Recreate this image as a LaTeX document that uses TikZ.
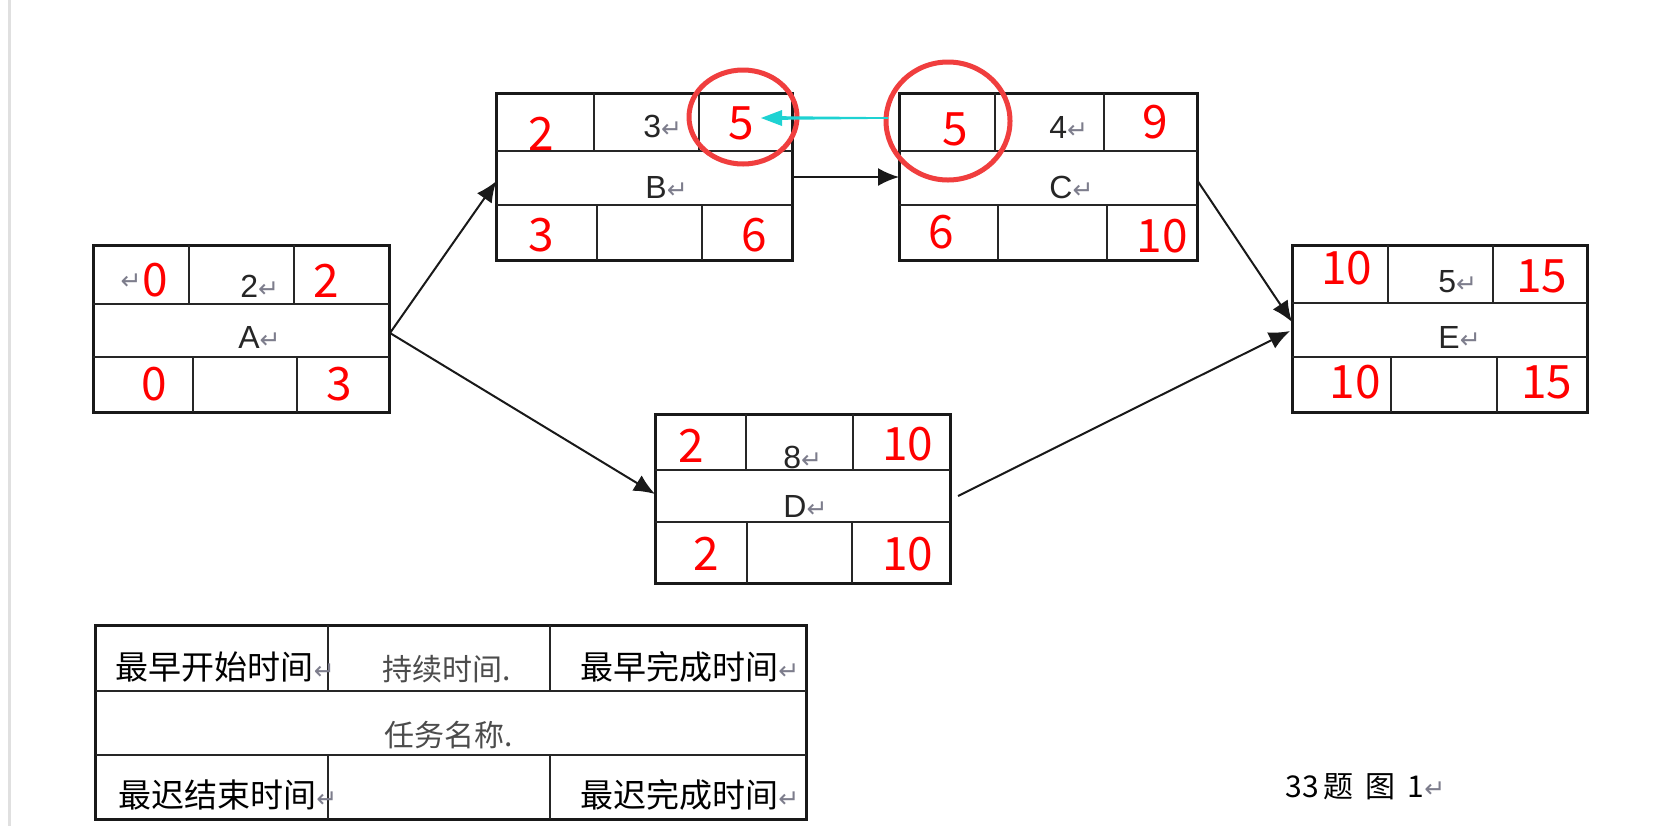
\documentclass[tikz,border=0pt]{standalone}
\usepackage{fontspec}
\setmainfont{Liberation Sans}
\newfontfamily\cjkf{Noto Sans CJK SC}
\newfontfamily\symf{DejaVu Sans}
\usetikzlibrary{arrows.meta,shapes.geometric}
\definecolor{numred}{RGB}{255,0,0}
\definecolor{ringred}{RGB}{240,62,62}
\definecolor{cyanarr}{RGB}{30,210,210}
\definecolor{retgray}{RGB}{125,125,140}
\newcommand\ret{{\symf\color{retgray}\fontsize{12.5}{12.5}\selectfont ↵}}
\tikzset{
  box/.style={draw=black!90, line width=1.5pt, inner sep=0pt, rectangle},
  grid/.style={draw=black!85, line width=1.25pt},
  num/.style={text=numred, font=\cjkf\fontsize{23}{23}\selectfont, inner sep=0pt},
  lab/.style={text=black!85, font=\fontsize{16}{16}\selectfont, inner sep=0pt, anchor=west},
  leg/.style={text=black, font=\cjkf\fontsize{16.5}{16.5}\selectfont, inner sep=0pt, anchor=west},
  legsm/.style={text=black!70, font=\cjkf\fontsize{15}{15}\selectfont, inner sep=0pt, anchor=west},
  arr/.style={-{Latex[length=10.5pt,width=9pt]}, line width=1pt, draw=black!90},
  ring/.style={draw=ringred, line width=2.5pt, ellipse, inner sep=0pt}
}
\begin{document}
\begin{tikzpicture}[x=0.5pt,y=-0.5pt]
\useasboundingbox[fill=white] (0,0) rectangle (1664,826);
\fill[black!12] (8,0) rectangle (11,826);

% ---- boxes
\node[box, minimum width=148pt, minimum height=83.5pt] (A) at (241,328.5) {};
\node[box, minimum width=147.75pt, minimum height=83.5pt] (B) at (644.25,176.5) {};
\node[box, minimum width=149pt, minimum height=83.5pt] (C) at (1048,176.5) {};
\node[box, minimum width=147.5pt, minimum height=84.5pt] (D) at (802.5,498.5) {};
\node[box, minimum width=147.5pt, minimum height=83.5pt] (E) at (1439.5,328.5) {};
\node[box, minimum width=355.25pt, minimum height=97pt] (L) at (450.75,722) {};

% ---- internal grid lines
\draw[grid] (93,304) -- (389,304) (93,357) -- (389,357)
  (189,245) -- (189,304) (294,245) -- (294,304) (193,357) -- (193,412) (297,357) -- (297,412);
\draw[grid] (496.5,151) -- (792,151) (496.5,205) -- (792,205)
  (594,93) -- (594,151) (699,93) -- (699,151) (597,205) -- (597,260) (702,205) -- (702,260);
\draw[grid] (899,151) -- (1197,151) (899,205) -- (1197,205)
  (995,93) -- (995,151) (1104,93) -- (1104,151) (998,205) -- (998,260) (1107,205) -- (1107,260);
\draw[grid] (655,470) -- (950,470) (655,522) -- (950,522)
  (746,414) -- (746,470) (853,414) -- (853,470) (747,522) -- (747,583) (852,522) -- (852,583);
\draw[grid] (1292,303) -- (1587,303) (1292,357) -- (1587,357)
  (1388,245) -- (1388,303) (1493,245) -- (1493,303) (1391,357) -- (1391,412) (1497,357) -- (1497,412);
\draw[grid] (95.5,691) -- (806,691) (95.5,755) -- (806,755)
  (328,625) -- (328,691) (550,625) -- (550,691) (328,755) -- (328,819) (550,755) -- (550,819);

% ---- black labels
\node[lab, anchor=east] (ra) at (142,282) {\ret};
\node[lab] (dA) at (240,286) {2\ret};
\node[lab] (nA) at (238,337) {A\ret};
\node[lab] (dB) at (643,126) {3\ret};
\node[lab] (nB) at (645,187) {B\ret};
\node[lab] (dC) at (1049,127) {4\ret};
\node[lab] (nC) at (1049,187) {C\ret};
\node[lab] (dD) at (783,457) {8\ret};
\node[lab] (nD) at (783,506) {D\ret};
\node[lab] (dE) at (1438,282) {5\ret};
\node[lab] (nE) at (1438,337) {E\ret};

% ---- red numbers
\node[num] (a1) at (155,280) {0};
\node[num] (a2) at (326,281) {2};
\node[num] (a3) at (154,384) {0};
\node[num] (a4) at (339,384) {3};
\node[num] (b1) at (541,134) {2};
\node[num] (b2) at (741.5,123) {5};
\node[num] (b3) at (541,235) {3};
\node[num] (b4) at (754,235) {6};
\node[num] (c1) at (955,129) {5};
\node[num] (c2) at (1155,122) {9};
\node[num] (c3) at (941,232) {6};
\node[num] (c4) at (1162,236) {10};
\node[num] (d1) at (691.5,446) {2};
\node[num] (d2) at (907.7,444) {10};
\node[num] (d3) at (706.5,554) {2};
\node[num] (d4) at (907.7,554) {10};
\node[num] (e1) at (1346.7,268) {10};
\node[num] (e2) at (1541.7,276) {15};
\node[num] (e3) at (1355,382.5) {10};
\node[num] (e4) at (1546.7,382.5) {15};

% ---- legend texts
\node[leg] (l1) at (115.4,666.7) {最早开始时间\ret};
\node[legsm] (l2) at (382,669) {持续时间.};
\node[leg] (l3) at (580,667) {最早完成时间\ret};
\node[legsm] (l4) at (384,735) {任务名称.};
\node[leg] (l5) at (118,795) {最迟结束时间\ret};
\node[leg] (l6) at (580,795) {最迟完成时间\ret};
\node[leg, font=\cjkf\fontsize{15}{15}\selectfont] (cap) at (1285,787) {33\hspace{2.5pt}题\hspace{6pt}图\hspace{6pt}1\ret};

% ---- connectors
\coordinate (Aout) at (390,333);
\coordinate (Bin) at (496.5,181);
\coordinate (Din) at (655,494);
\coordinate (Bout) at (792,177);
\coordinate (Cin) at (899,177);
\coordinate (Cout) at (1197,180);
\coordinate (Ein1) at (1292,322);
\coordinate (Dout) at (958,496);
\coordinate (Ein2) at (1290,331);
\draw[arr] (Aout) -- (Bin);
\draw[arr] (Aout) -- (Din);
\draw[arr] (Bout) -- (Cin);
\draw[arr] (Cout) -- (Ein1);
\draw[arr] (Dout) -- (Ein2);

% ---- rings and cyan arrow
\node[ring, minimum width=54pt, minimum height=47pt] (ring1) at (743,117) {};
\node[ring, minimum width=62pt, minimum height=59pt] (ring2) at (948,121) {};
\coordinate (cyS) at (888,118);
\coordinate (cyE) at (761,118);
\fill[cyanarr] (888,117.2) -- (782,116.2) -- (782,110) -- (cyE) -- (782,126) -- (782,119.8) -- (888,118.8) -- cycle;
\end{tikzpicture}
\end{document}
